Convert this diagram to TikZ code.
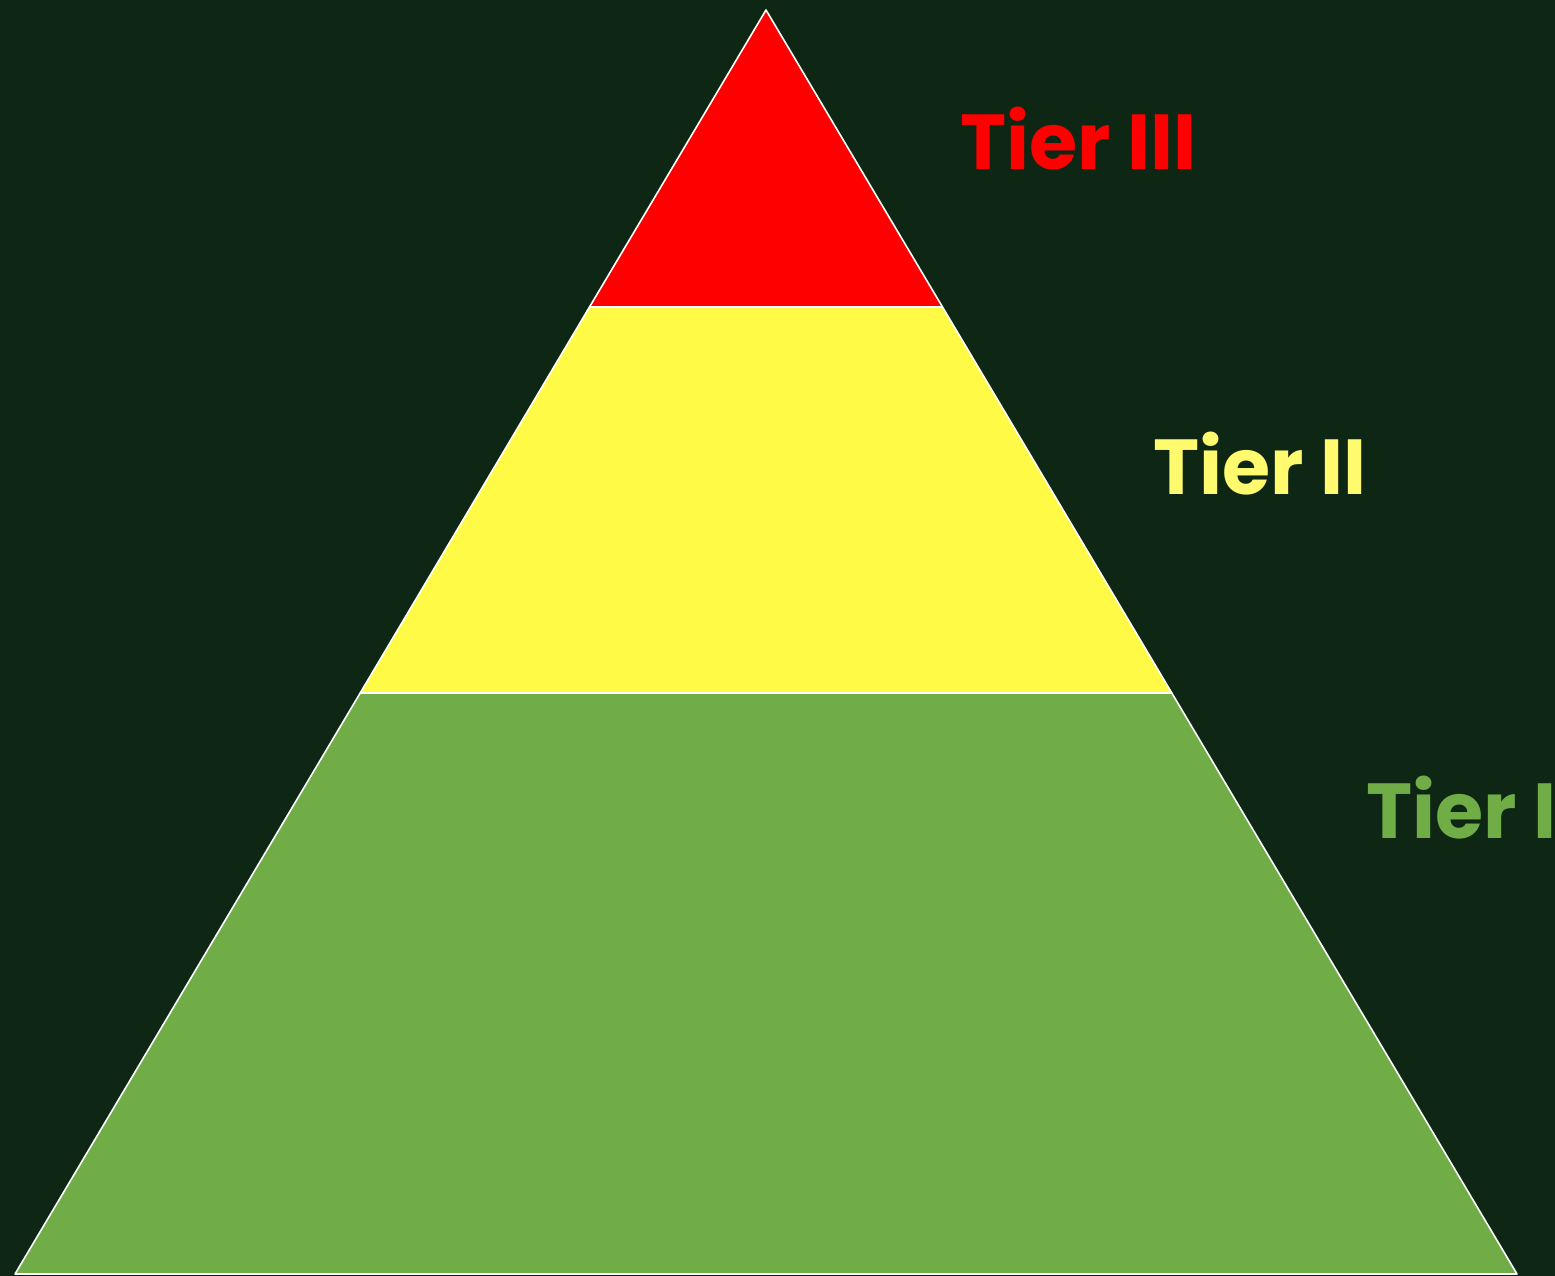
\documentclass[tikz,border=0pt]{standalone}
\usepackage{fontspec}
\newfontfamily\tierfont{Poppins}
\usetikzlibrary{positioning}
\definecolor{board}{RGB}{14,38,20}
\definecolor{tierred}{RGB}{255,0,0}
\definecolor{tieryellow}{RGB}{255,250,70}
\definecolor{tiergreen}{RGB}{112,173,71}
\definecolor{labelyellow}{RGB}{255,250,110}
\begin{document}
\begin{tikzpicture}[x=1pt, y=-1pt,
    layer/.style={draw=white, line width=1.6pt, line join=round},
    tierlabel/.style={anchor=base west, inner sep=0pt,
      font=\tierfont\bfseries\fontsize{78}{80}\selectfont}]
  \fill[board] (0,0) rectangle (1555,1276);
  \useasboundingbox (0,0) rectangle (1555,1276);
  \clip (0,0) rectangle (1555,1276);
  % pyramid corners
  \coordinate (top)  at (766,10);
  \coordinate (l3)   at (589.5,307);
  \coordinate (r3)   at (942.5,307);
  \coordinate (l2)   at (360.2,693);
  \coordinate (r2)   at (1171.8,693);
  \coordinate (base l) at (15,1274);
  \coordinate (base r) at (1517,1274);
  % layers
  \filldraw[layer, fill=tiergreen]  (l2) -- (r2) -- (base r) -- (base l) -- cycle;
  \filldraw[layer, fill=tieryellow] (l3) -- (r3) -- (r2) -- (l2) -- cycle;
  \filldraw[layer, fill=tierred]    (top) -- (r3) -- (l3) -- cycle;
  % labels
  \node (t3) [tierlabel, text=tierred]     at (960,170) {Tier III};
  \node (t2) [tierlabel, text=labelyellow] at (1153,494) {Tier II};
  \node (t1) [tierlabel, text=tiergreen]   at (1366,838) {Tier I};
\end{tikzpicture}
\end{document}
